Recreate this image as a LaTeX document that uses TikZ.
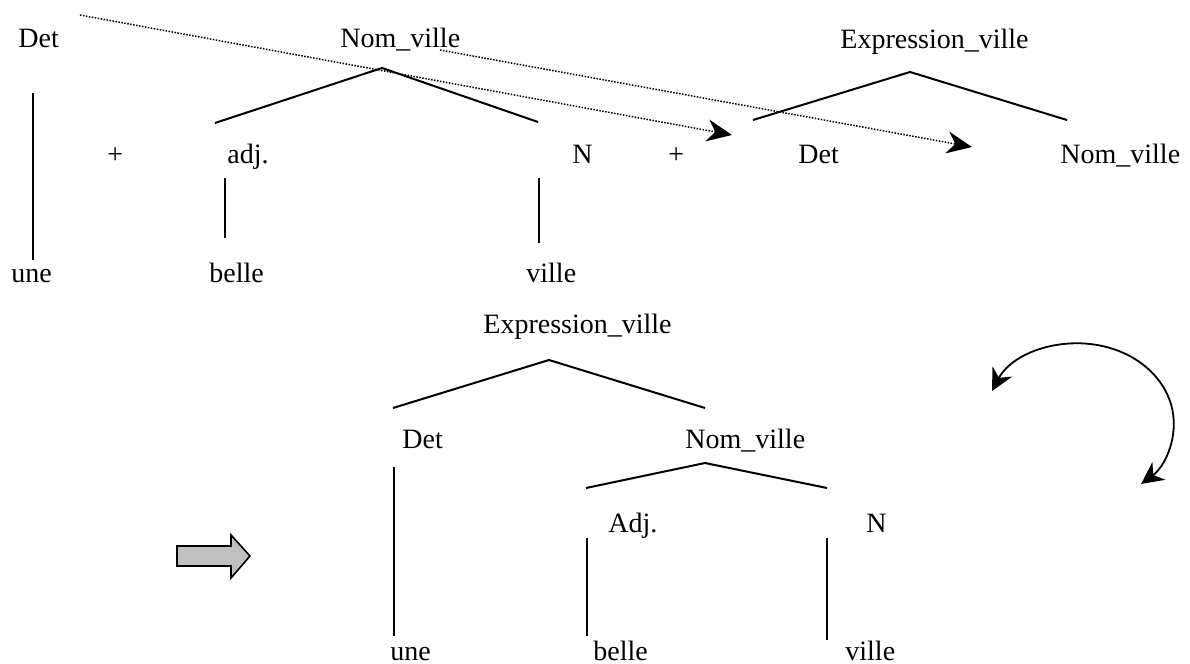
\documentclass[tikz,border=0pt]{standalone}
\usepackage{fontspec}
\setmainfont{Liberation Serif}
\usepackage{tikz}
\usetikzlibrary{arrows.meta}
\usepackage{xcolor}
\definecolor{blockgray}{RGB}{192,192,192}

\begin{document}
\begin{tikzpicture}[x=0.5pt,y=-0.5pt,
    cat/.style={font=\fontsize{14}{16}\selectfont,inner sep=0pt,anchor=base west},
    branch/.style={line width=1pt},
    stem/.style={line width=0.75pt},
    link/.style={line width=0.75pt,dash pattern=on 0.75pt off 0.75pt,
        -{Stealth[length=12.5pt,width=11pt,inset=4pt]}}]
    \useasboundingbox (0,0) rectangle (1190,664);
    % first row: the pieces
    \node[cat] (det1) at (18,47) {Det};
    \node[cat] (nomv1) at (340,47) {Nom\_ville};
    \node[cat] (expr1) at (840,48) {Expression\_ville};
    \node[cat] (plus1) at (107,163) {+};
    \node[cat] (adj1) at (227,163) {adj.};
    \node[cat] (n1) at (572,163) {N};
    \node[cat] (plus2) at (668,163) {+};
    \node[cat] (det2) at (798,163) {Det};
    \node[cat] (nomv2) at (1060,163) {Nom\_ville};
    \node[cat] (une1) at (11,282) {une};
    \node[cat] (belle1) at (209,282) {belle};
    \node[cat] (ville1) at (526,282) {ville};
    % Nom_ville tree
    \coordinate (nv1t) at (382,68);
    \coordinate (nv1l) at (215,123);
    \coordinate (nv1r) at (538,122);
    \draw[branch] (nv1l) -- (nv1t) -- (nv1r);
    % Expression_ville tree
    \coordinate (ev1t) at (910,72);
    \coordinate (ev1l) at (753,120);
    \coordinate (ev1r) at (1067,120);
    \draw[branch] (ev1l) -- (ev1t) -- (ev1r);
    % stems
    \coordinate (s1a) at (33,93);   \coordinate (s1b) at (33,260);
    \coordinate (s2a) at (225,178); \coordinate (s2b) at (225,238);
    \coordinate (s3a) at (539,178); \coordinate (s3b) at (539,243);
    \draw[stem] (s1a) -- (s1b);
    \draw[stem] (s2a) -- (s2b);
    \draw[stem] (s3a) -- (s3b);
    % dotted links
    \coordinate (l1a) at (80,15);  \coordinate (l1b) at (732,135);
    \coordinate (l2a) at (440,50); \coordinate (l2b) at (972,147);
    \draw[link] (l1a) -- (l1b);
    \draw[link] (l2a) -- (l2b);
    % result tree
    \node[cat] (expr2) at (483,333) {Expression\_ville};
    \node[cat] (det3) at (402,448) {Det};
    \node[cat] (nomv3) at (685,448) {Nom\_ville};
    \node[cat] (adj2) at (608,532) {Adj.};
    \node[cat] (n2) at (866,532) {N};
    \node[cat] (une2) at (390,660) {une};
    \node[cat] (belle2) at (593,660) {belle};
    \node[cat] (ville2) at (845,660) {ville};
    \coordinate (ev2t) at (549,360);
    \coordinate (ev2l) at (393,408);
    \coordinate (ev2r) at (705,408);
    \draw[branch] (ev2l) -- (ev2t) -- (ev2r);
    \coordinate (nv3t) at (705,463);
    \coordinate (nv3l) at (586,488);
    \coordinate (nv3r) at (827,488);
    \draw[branch] (nv3l) -- (nv3t) -- (nv3r);
    \coordinate (s4a) at (394,467); \coordinate (s4b) at (394,636);
    \coordinate (s5a) at (587,538); \coordinate (s5b) at (587,636);
    \coordinate (s6a) at (827,538); \coordinate (s6b) at (827,640);
    \draw[stem] (s4a) -- (s4b);
    \draw[stem] (s5a) -- (s5b);
    \draw[stem] (s6a) -- (s6b);
    % block arrow
    \draw[line width=0.8pt,fill=blockgray,line join=miter]
        (177,546) -- (231,546) -- (231,535) -- (250,556) -- (231,578)
        -- (231,566) -- (177,566) -- cycle;
    % swap arrow
    \coordinate (sw) at (992,391);
    \draw[line width=0.9pt,{Stealth[length=11pt,width=11pt,inset=3.5pt]}-{Stealth[length=11pt,width=11pt,inset=3.5pt]}]
        (sw) arc[start angle=204,end angle=409,x radius=95,y radius=80];
\end{tikzpicture}
\end{document}
